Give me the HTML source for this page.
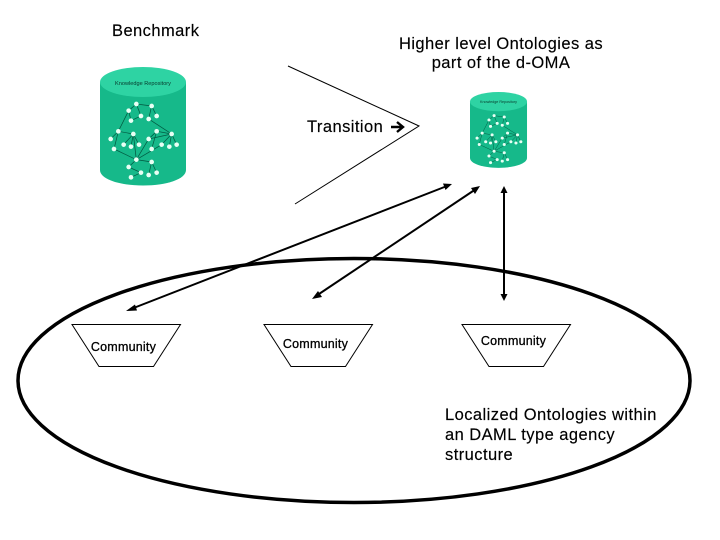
<!DOCTYPE html>
<html>
<head>
<meta charset="utf-8">
<style>
html,body{margin:0;padding:0;background:#fff;width:720px;height:540px;overflow:hidden}
svg{display:block}
text{font-family:"Liberation Sans",sans-serif;fill:#000}
</style>
</head>
<body>
<svg width="720" height="540" viewBox="0 0 720 540" xmlns="http://www.w3.org/2000/svg">
<defs>
<filter id="b"><feGaussianBlur stdDeviation="0.35"/></filter>
<g id="graph">
  <g stroke="#045a42" stroke-width="2.200" fill="none">
    <path d="M139 132L116 152L85 214L62 237M139 132L185 138L176 177L245 222L200 214L176 237L139 299L116 321M116 152L123 182M139 132L153 168L123 182M185 138L200 168M85 214L130 222L101 254M85 214L72 267L139 299L130 222L123 260M130 222L147 254M200 214L185 267M245 222L215 254M245 222L238 260M245 222L260 254M215 254L139 299M139 299L185 306L176 345M185 306L200 338M116 321L153 338L123 352M176 237L245 222"/>
  </g>
  <g fill="#e8fff4">
    <circle cx="139" cy="132" r="7"/><circle cx="185" cy="138" r="7"/><circle cx="116" cy="152" r="7"/><circle cx="153" cy="168" r="7"/><circle cx="176" cy="177" r="7"/><circle cx="200" cy="168" r="7"/><circle cx="123" cy="182" r="7"/>
    <circle cx="85" cy="214" r="7"/><circle cx="130" cy="222" r="7"/><circle cx="200" cy="214" r="7"/><circle cx="245" cy="222" r="7"/><circle cx="62" cy="237" r="7"/><circle cx="176" cy="237" r="7"/><circle cx="101" cy="254" r="7"/><circle cx="147" cy="254" r="7"/><circle cx="123" cy="260" r="7"/><circle cx="215" cy="254" r="7"/><circle cx="238" cy="260" r="7"/><circle cx="260" cy="254" r="7"/><circle cx="72" cy="267" r="7"/><circle cx="185" cy="267" r="7"/>
    <circle cx="139" cy="299" r="7"/><circle cx="185" cy="306" r="7"/><circle cx="116" cy="321" r="7"/><circle cx="153" cy="338" r="7"/><circle cx="200" cy="338" r="7"/><circle cx="176" cy="345" r="7"/><circle cx="123" cy="352" r="7"/>
  </g>
</g>
<g id="body">
  <path d="M100 82V170C100 179 119 185.500 143 185.500S186 179 186 170V82Z" fill="#14b98a"/>
  <ellipse cx="143" cy="82" rx="43" ry="15" fill="#2fd3a3"/>
</g>
</defs>

<!-- large cylinder -->
<g filter="url(#b)">
  <use href="#body"/>
  <g transform="translate(90 60) scale(.3333)"><use href="#graph"/></g>
  <text x="143" y="85" font-size="5.600" text-anchor="middle" style="fill:#063a2c">Knowledge Repository</text>
</g>

<!-- small cylinder -->
<g filter="url(#b)">
  <g transform="translate(470 92) scale(.663 .64) translate(-100 -67)">
    <use href="#body"/>
    <g transform="translate(90 60) scale(.3333)"><use href="#graph"/></g>
  </g>
  <text x="498.500" y="103" font-size="3.700" text-anchor="middle" style="fill:#063a2c">Knowledge Repository</text>
</g>

<!-- big ellipse -->
<ellipse cx="354" cy="380.500" rx="336" ry="122" fill="none" stroke="#000" stroke-width="3.500"/>

<!-- transition chevron -->
<path d="M288 66L419 126L295 204" fill="none" stroke="#000" stroke-width="1"/>

<!-- arrows -->
<g stroke="#000" stroke-width="2" fill="none">
  <path d="M447 186L131 309"/>
  <path d="M476 189L316 296"/>
  <path d="M504 191V296"/>
</g>
<g fill="#000">
  <path d="M452 184L443 183.500L445.500 190Z"/>
  <path d="M126 311L135 304.500L137 310.500Z"/>
  <path d="M480 186L471 188L475 194Z"/>
  <path d="M312 299L318 291L322 297Z"/>
  <path d="M504 186L500.500 193H507.500Z"/>
  <path d="M504 301L500.500 294H507.500Z"/>
</g>

<!-- community trapezoids -->
<g fill="none" stroke="#000" stroke-width="1">
  <path d="M72 324.500H180.500L153.500 366.500H99Z"/>
  <path d="M264 324.500H372.500L345.500 366.500H291Z"/>
  <path d="M462 324.500H570.500L543.500 366.500H489Z"/>
</g>
<g font-size="12.500" letter-spacing=".22" text-anchor="middle" stroke="#000" stroke-width=".3">
  <text x="123.500" y="351">Community</text>
  <text x="315.500" y="348">Community</text>
  <text x="513.500" y="345">Community</text>
</g>

<!-- labels -->
<g font-size="16.500" letter-spacing=".44" stroke="#000" stroke-width=".15">
  <text x="112" y="36">Benchmark</text>
  <text x="501" y="49" text-anchor="middle">Higher level Ontologies as</text>
  <text x="501" y="68" text-anchor="middle">part of the d-OMA</text>
  <text x="307" y="132">Transition</text>
  <text x="445" y="420">Localized Ontologies within</text>
  <text x="445" y="440">an DAML type agency</text>
  <text x="445" y="460">structure</text>
</g>
<path d="M391 127H401M397 122L403 127L397 132" fill="none" stroke="#000" stroke-width="2.400"/>
</svg>
</body>
</html>
